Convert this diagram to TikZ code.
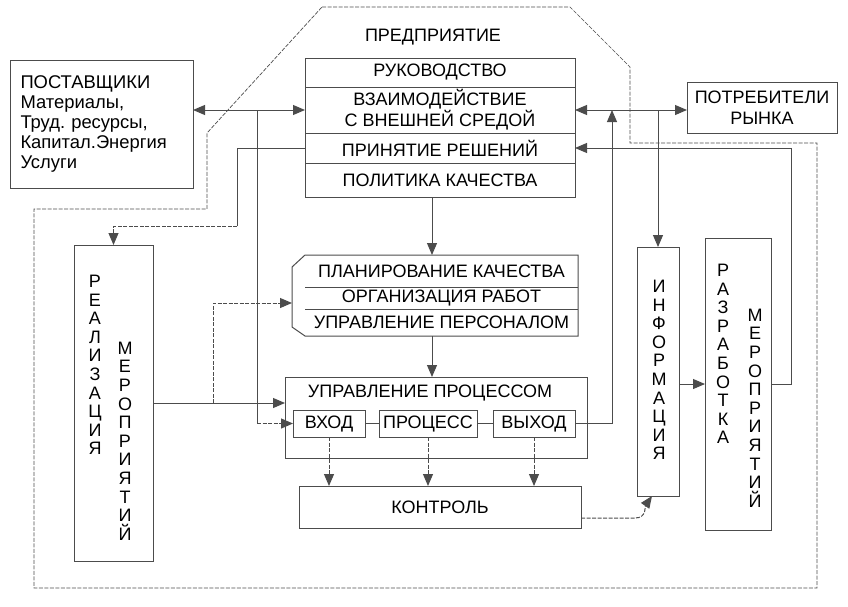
\documentclass[tikz,border=0pt]{standalone}
\usepackage{fontspec}
\setmainfont{Liberation Sans}
\usetikzlibrary{arrows.meta,chains,positioning}
\frenchspacing

\begin{document}
\begin{tikzpicture}[
			x=1pt, y=-1pt,
			>={Triangle[length=12pt, width=10pt]},
			color=black!70, line width=1pt,
			every node/.append style={text=black},
			font=\fontsize{18}{19}\selectfont,
			box/.style={draw, inner sep=0pt, outer sep=0pt},
			cell/.style={box, minimum width=270pt, on chain},
			row/.style={inner sep=0pt, outer sep=0pt, minimum width=273pt, on chain},
			vtxt/.style={align=center, inner sep=0pt, font=\fontsize{18}{18.6}\selectfont},
			dline/.style={dash pattern=on 4pt off 1.5pt},
			]
			\useasboundingbox (0,0) rectangle (848,606);
			% enterprise frame
			\draw[dline, line width=0.7pt] (322,7) -- (570,7) -- (630,67) -- (630,143)
				-- (817,143) -- (817,588) -- (34,588) -- (34,209) -- (207,209) -- (207,133) -- cycle;
			\node (ent) at (433,37) {ПРЕДПРИЯТИЕ};
			% management
			\begin{scope}[start chain=going below, node distance=0pt]
				\node [cell, minimum height=29pt] (ruk) at (440,72.5) {РУКОВОДСТВО};
				\node [cell, minimum height=46pt, align=center] (vz) {ВЗАИМОДЕЙСТВИЕ\\С ВНЕШНЕЙ СРЕДОЙ};
				\node [cell, minimum height=30pt] (pr) {ПРИНЯТИЕ РЕШЕНИЙ};
				\node [cell, minimum height=34pt] (pol) {ПОЛИТИКА КАЧЕСТВА};
			\end{scope}
			% suppliers and consumers
			\node [box, minimum width=183pt, minimum height=128pt, text width=162pt, align=left,
				font=\fontsize{18.4}{20}\selectfont] (sup) at (101.5,124)
				{ПОСТАВЩИКИ\\Материалы,\\Труд. ресурсы,\\Капитал.Энергия\\Услуги};
			\node [box, minimum width=150pt, minimum height=51pt, align=center,
				font=\fontsize{18}{21}\selectfont] (cons) at (762,107.5) {ПОТРЕБИТЕЛИ\\РЫНКА};
			% realization
			\node [box, minimum width=79pt, minimum height=316pt] (real) at (113.5,403) {};
			\node [vtxt] (real1) at (95,365) {Р\\Е\\А\\Л\\И\\З\\А\\Ц\\И\\Я};
			\node [vtxt] (real2) at (125,441) {М\\Е\\Р\\О\\П\\Р\\И\\Я\\Т\\И\\Й};
			% planning
			\begin{scope}[start chain=going below, node distance=0pt]
				\node [row, minimum height=32pt] (p1) at (441.5,271) {ПЛАНИРОВАНИЕ КАЧЕСТВА};
				\node [row, minimum height=22pt] (p2) {ОРГАНИЗАЦИЯ РАБОТ};
				\node [row, minimum height=27pt] (p3) {УПРАВЛЕНИЕ ПЕРСОНАЛОМ};
			\end{scope}
			\draw (p1.north west) -- (p1.north east) -- (p3.south east) -- (p3.south west)
				-- ++(-13,-9) -- ++(0,-60) -- cycle;
			\draw (p1.south west) -- (p1.south east);
			\draw (p2.south west) -- (p2.south east);
			\coordinate (pin) at (292,303);
			% process
			\node [box, minimum width=302pt, minimum height=81pt] (proc) at (436,417.5) {};
			\node (proct) at (430,393) {УПРАВЛЕНИЕ ПРОЦЕССОМ};
			\node [box, minimum width=72pt, minimum height=27pt] (vx) at (329,423.5) {ВХОД};
			\node [box, minimum width=98pt, minimum height=27pt] (prc) at (428,423.5) {ПРОЦЕСС};
			\node [box, minimum width=82pt, minimum height=27pt] (vy) at (534,423.5) {ВЫХОД};
			\draw (vx) -- (prc);
			\draw (prc) -- (vy);
			\node [box, minimum width=282pt, minimum height=42pt] (ctl) at (440,507) {КОНТРОЛЬ};
			% information and development
			\node [box, minimum width=42pt, minimum height=249pt] (info) at (658,371.5) {};
			\node [vtxt] (info1) at (659,370) {И\\Н\\Ф\\О\\Р\\М\\А\\Ц\\И\\Я};
			\node [box, minimum width=66pt, minimum height=292pt] (dev) at (738,384) {};
			\node [vtxt] (dev1) at (723,354) {Р\\А\\З\\Р\\А\\Б\\О\\Т\\К\\А};
			\node [vtxt] (dev2) at (755,408) {М\\Е\\Р\\О\\П\\Р\\И\\Я\\Т\\И\\Й};
			% connectors
			\coordinate (bs) at (257,110);
			\coordinate (bd) at (237,226);
			\coordinate (br) at (213,403);
			\coordinate (bo) at (612,110);
			\draw [<->] (sup.east |- vz.west) -- (vz.west);
			\draw [<->] (vz.east) -- (vz.east -| cons.west);
			\draw (bs) -- (bs |- vx.west);
			\draw [->, dline] (bs |- vx.west) -- (vx.west);
			\draw (pr.west) -| (bd);
			\draw [->, dline] (bd) -| (real.north);
			\draw [->] (real.east) -- (real.east -| proc.west);
			\draw [->, dline] (br) |- (pin);
			\draw [->] ([xshift=-8pt]pol.south) -- ([xshift=-8pt]pol.south |- p1.north);
			\draw [->] ([xshift=-9.5pt]p3.south) -- ([xshift=-9.5pt]p3.south |- proc.north);
			\foreach \n in {vx,prc,vy}
				\draw [->, dline] (\n.south) -- (\n.south |- ctl.north);
			\draw [->] (vy.east) -| (bo);
			\draw [->] (info.north |- vz.east) -- (info.north);
			\draw [->] (dev.west -| info.east) -- (dev.west);
			\draw [->] (dev.east) -- ++(20,0) |- (pr.east);
			\draw [->, dline] ([yshift=-11pt]ctl.east) -- ++(54,0)
				.. controls +(12,0) and +(-7,10) .. ([xshift=-6pt]info.south);
		\end{tikzpicture}
\end{document}
